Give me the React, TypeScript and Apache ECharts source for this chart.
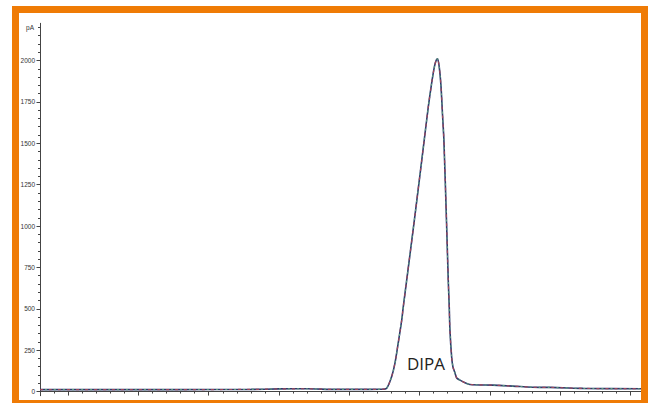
import React, { useEffect, useRef } from "react";
import * as echarts from "echarts";

// retention time (arbitrary minor-tick units) and detector signal (pA)
const times = [
  0, 5, 10, 15, 17, 19, 21, 23, 24.3, 24.66, 25.01, 25.25, 25.48, 25.73, 25.84, 26.6,
  27.33, 27.62, 27.87, 28.06, 28.19, 28.28, 28.4, 28.52, 28.64, 28.73, 28.92, 29.04,
  29.11, 29.16, 29.28, 29.37, 29.52, 29.64, 29.87, 30.23, 30.58, 32.22, 33.64, 35.56,
  36.27, 38.62, 42.75,
];
const signal = [
  12, 12, 12, 13, 16, 17, 13, 13, 14, 20, 89, 172, 293, 432, 512, 1016,
  1519, 1720, 1870, 1965, 2003, 2010, 1960, 1850, 1660, 1519, 1016, 673,
  512, 371, 210, 150, 112, 82, 69, 53, 43, 39, 33, 25,
  25, 19, 17,
];
const yMajorTicks = [0, 250, 500, 750, 1000, 1250, 1500, 1750, 2000];
const yMinorTicks = Array.from({ length: 45 }, (_, i) => i * 50);
const xMajorTicks = [2, 7, 12, 17, 22, 27, 32, 37, 42];
const xMinorTicks = Array.from({ length: 43 }, (_, i) => i);
const unitLabel = "pA";
const peakLabel = "DIPA";

export default function App() {
  const ref = useRef<HTMLDivElement>(null);
  useEffect(() => {
    if (!ref.current) return;
    const chart = echarts.init(ref.current, null, { renderer: "svg" });
    const pts = times.map((t, i) => [t, signal[i]]);
    const axisColor = "#444";
    chart.setOption({
      animation: false,
      backgroundColor: "#ffffff",
      grid: { left: 40, right: 13, top: 23.3, bottom: 7.3 },
      xAxis: [
        {
          type: "value",
          min: 0,
          max: 42.75,
          axisLine: { show: true, lineStyle: { color: axisColor, width: 1 } },
          axisTick: { show: true, customValues: xMajorTicks, length: 4, lineStyle: { color: axisColor } },
          axisLabel: { show: false },
          splitLine: { show: false },
        },
        {
          type: "value",
          min: 0,
          max: 42.75,
          position: "bottom",
          axisLine: { show: false },
          axisTick: { show: true, customValues: xMinorTicks, length: 2, lineStyle: { color: axisColor } },
          axisLabel: { show: false },
          splitLine: { show: false },
        },
      ],
      yAxis: [
        {
          type: "value",
          min: -25,
          max: 2225,
          axisLine: { show: true, lineStyle: { color: axisColor, width: 1 } },
          axisTick: { show: true, customValues: yMajorTicks, length: 3.5, lineStyle: { color: axisColor } },
          axisLabel: {
            show: true,
            customValues: yMajorTicks,
            formatter: (v: number) => String(v),
            fontSize: 6.5,
            color: "#333",
            margin: 5,
            fontFamily: "Liberation Sans, Arial, sans-serif",
          },
          splitLine: { show: false },
        },
        {
          type: "value",
          min: -25,
          max: 2225,
          position: "left",
          axisLine: { show: false },
          axisTick: { show: true, customValues: yMinorTicks, length: 2, lineStyle: { color: axisColor } },
          axisLabel: { show: false },
          splitLine: { show: false },
        },
      ],
      series: [
        {
          type: "line",
          data: pts,
          showSymbol: false,
          smooth: 0.25,
          lineStyle: { color: "#2d3b6e", width: 1.6 },
          z: 3,
        },
        {
          type: "line",
          data: pts,
          showSymbol: false,
          smooth: 0.25,
          lineStyle: { color: "#a0485a", width: 1.2, type: [3, 6] },
          z: 4,
        },
        {
          type: "line",
          data: pts,
          showSymbol: false,
          smooth: 0.25,
          lineStyle: { color: "#5fa07a", width: 1.1, type: [2, 7], dashOffset: 4 },
          z: 4,
        },
      ],
      graphic: [
        {
          type: "text",
          x: 34,
          y: 27.5,
          style: {
            text: unitLabel,
            fontSize: 6.5,
            fill: "#333",
            align: "right",
            verticalAlign: "middle",
            fontFamily: "Liberation Sans, Arial, sans-serif",
          },
        },
        {
          type: "text",
          x: 426,
          y: 363.5,
          style: {
            text: peakLabel,
            fontSize: 17,
            fill: "#222",
            align: "center",
            verticalAlign: "middle",
            fontFamily: "Open Sans, sans-serif",
          },
          z: 10,
        },
        {
          type: "rect",
          shape: { x: 15.5, y: 9.5, width: 629, height: 394 },
          style: { fill: "none", stroke: "#ef7b05", lineWidth: 7 },
          z: 20,
        },
      ],
    });
    return () => chart.dispose();
  }, []);
  return (
    <div
      ref={ref}
      style={{ position: "fixed", left: 0, top: 0, width: 654, height: 403, background: "#fff" }}
    />
  );
}
